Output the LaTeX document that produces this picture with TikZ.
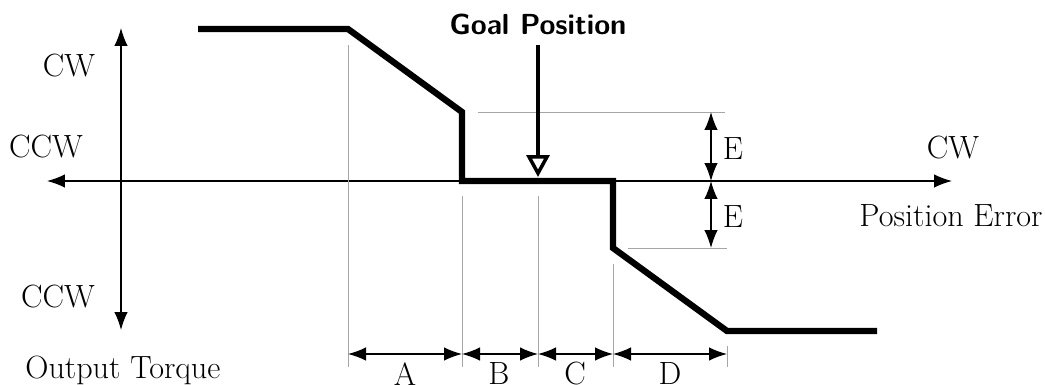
\documentclass[tikz,border=0pt]{standalone}
\usetikzlibrary{arrows.meta}

\begin{document}
\begin{tikzpicture}[x=0.02cm,y=-0.02cm,font=\fontsize{18.3}{21}\selectfont,
    dimline/.style={{Latex[length=3.6mm,width=2.7mm]}-{Latex[length=3.6mm,width=2.7mm]},line width=0.8pt},
    guide/.style={gray!70,line width=0.5pt},
    torque/.style={line width=3.6pt,line join=miter}]
            \useasboundingbox (0,0) rectangle (1045,385);

            % Define the axes
            \coordinate (xl) at (47,181);
            \coordinate (xr) at (952,181);
            \coordinate (yt) at (121,28);
            \coordinate (yb) at (121,330);
            \draw[dimline] (xl) -- (xr);
            \draw[dimline] (yt) -- (yb);
            \node (cwl) at (69,66) {CW};
            \node (ccwl) at (46,147) {CCW};
            \node (ccwb) at (58,297) {CCW};
            \node[anchor=west,inner sep=0pt] (torquelbl) at (25,370) {Output Torque};
            \node (cwr) at (953,148) {CW};
            \node (errlbl) at (951,216) {Position Error};

            % Define the guide lines
            \draw[guide] (348,45) -- (348,367);
            \draw[guide] (462,196) -- (462,367);
            \draw[guide] (538,196) -- (538,367);
            \draw[guide] (613,264) -- (613,367);
            \draw[guide] (727,346) -- (727,367);
            \draw[guide] (478,112) -- (725,112);
            \draw[guide] (628,248) -- (727,248);

            % Define the output torque curve
            \coordinate (p1) at (198,29);
            \coordinate (p2) at (348,29);
            \coordinate (p3) at (462,112);
            \coordinate (p4) at (462,181);
            \coordinate (p5) at (613,181);
            \coordinate (p6) at (613,248);
            \coordinate (p7) at (727,331);
            \coordinate (p8) at (877,331);
            \draw[torque] (p1) -- (p2) -- (p3) -- (p4) -- (p5) -- (p6) -- (p7) -- (p8);

            % Add the goal position marker
            \node[font=\fontsize{16.5}{19}\selectfont\sffamily\bfseries] (goal) at (538,24) {Goal Position};
            \coordinate (gtop) at (538,45);
            \coordinate (gbot) at (538,177);
            \draw[line width=2pt,-{Triangle[open,length=4.4mm,width=4.6mm]}] (gtop) -- (gbot);

            % Add the dead band arrows
            \coordinate (e1) at (711,112);
            \coordinate (e2) at (711,181);
            \coordinate (e3) at (711,248);
            \draw[dimline] (e1) -- (e2);
            \draw[dimline] (e2) -- (e3);
            \node (elbl1) at (733,149) {E};
            \node (elbl2) at (733,217) {E};

            % Add the slope widths
            \coordinate (d1) at (348,354);
            \coordinate (d2) at (462,354);
            \coordinate (d3) at (538,354);
            \coordinate (d4) at (613,354);
            \coordinate (d5) at (727,354);
            \draw[dimline] (d1) -- (d2);
            \draw[dimline] (d2) -- (d3);
            \draw[dimline] (d3) -- (d4);
            \draw[dimline] (d4) -- (d5);
            \node (albl) at (405,374) {A};
            \node (blbl) at (499,374) {B};
            \node (clbl) at (575,374) {C};
            \node (dlbl) at (670,374) {D};

        \end{tikzpicture}
\end{document}
